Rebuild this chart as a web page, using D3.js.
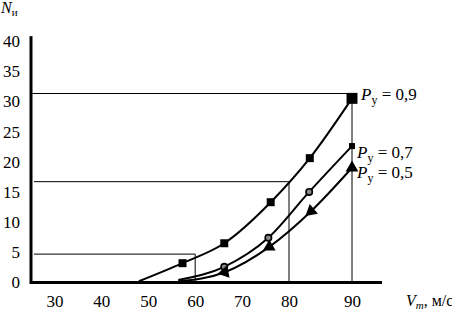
<!DOCTYPE html>
<html>
<head>
<meta charset="utf-8">
<script src="https://cdn.jsdelivr.net/npm/d3@7"></script>
<style>
  body { margin: 0; background: #fff; }
  svg text { font-family: "Times New Roman", Tinos, "Liberation Serif", "Noto Serif", "DejaVu Serif", serif !important; fill: #000; }
  .tick text { font-size: 17px; }
</style>
</head>
<body>
<div id="chart"></div>
<script>
// speeds (m/s) and N values for each reliability level
var speed09 = [48, 57.3, 66.2, 76.1, 83.3, 90];
var n09     = [0.2, 3.2, 6.5, 13.3, 20.6, 30.5];
var speed07 = [56.4, 66.2, 75.6, 83.2, 90];
var n07     = [0.4, 2.6, 7.4, 15.0, 22.6];
var speed05 = [56.4, 66.3, 75.8, 83.5, 90];
var n05     = [0.2, 1.7, 5.9, 11.8, 19.0];

var seriesLabels = ['0,9', '0,7', '0,5'];

// guide lines
var guideSpeed = [60, 80, 90];
var guideN     = [4.7, 16.7, 31.3];

var xTicks = [30, 40, 50, 60, 70, 80, 90];
var yTicks = [0, 5, 10, 15, 20, 25, 30, 35, 40];

var W = 452, H = 311;

var svg = d3.select('#chart')
  .append('svg')
  .attr('width', W)
  .attr('height', H);

// the original x axis is stretched between 80 and 90
var x = d3.scaleLinear().domain([25, 80, 90, 94.8]).range([31, 289, 352, 382]);
var y = d3.scaleLinear().domain([0, 40]).range([282.5, 41]);

// guide lines
guideSpeed.forEach(function(s, i) {
  svg.append('line')
    .attr('x1', i === 2 ? x(25) : x(25) + 3).attr('x2', x(s))
    .attr('y1', y(guideN[i])).attr('y2', y(guideN[i]))
    .attr('stroke', '#000').attr('stroke-width', 1);
  svg.append('line')
    .attr('x1', x(s)).attr('x2', x(s))
    .attr('y1', y(guideN[i])).attr('y2', y(0))
    .attr('stroke', '#000').attr('stroke-width', 1);
});

// axes
var xAxis = d3.axisBottom(x).tickValues(xTicks).tickSize(0).tickPadding(12).tickFormat(d3.format('d'));
svg.append('g')
  .attr('transform', 'translate(0,' + y(0) + ')')
  .call(xAxis)
  .call(function(g) { g.select('.domain').remove(); });

var yAxis = d3.axisLeft(y).tickValues(yTicks).tickSize(0).tickPadding(11);
svg.append('g')
  .attr('transform', 'translate(' + x(25) + ',0)')
  .call(yAxis)
  .call(function(g) { g.select('.domain').remove(); });

svg.append('line')
  .attr('x1', x(25) - 1).attr('x2', x(94.8))
  .attr('y1', y(0)).attr('y2', y(0))
  .attr('stroke', '#000').attr('stroke-width', 3);
svg.append('line')
  .attr('x1', x(25)).attr('x2', x(25))
  .attr('y1', y(40.8)).attr('y2', y(0) + 1.5)
  .attr('stroke', '#000').attr('stroke-width', 3);

// axis titles
var nTitle = svg.append('text').attr('x', 1).attr('y', 13).attr('font-size', 16);
nTitle.append('tspan').attr('font-style', 'italic').text('N');
nTitle.append('tspan').attr('font-size', 11).attr('dy', 3).text('и');

var vTitle = svg.append('text').attr('x', 406).attr('y', 306).attr('font-size', 16);
vTitle.append('tspan').attr('font-style', 'italic').text('V');
vTitle.append('tspan').attr('font-style', 'italic').attr('font-size', 11).attr('dy', 3).text('m');
vTitle.append('tspan').attr('dy', -3).text(', м/с');

// series
var series = [
  { sx: speed09, sy: n09, label: seriesLabels[0], marker: 'square', dx: 9, dy: 2 },
  { sx: speed07, sy: n07, label: seriesLabels[1], marker: 'circle', dx: 5, dy: 12 },
  { sx: speed05, sy: n05, label: seriesLabels[2], marker: 'triangle', dx: 5, dy: 10 }
];

var line = d3.line()
  .x(function(d) { return x(d[0]); })
  .y(function(d) { return y(d[1]); })
  .curve(d3.curveMonotoneX);

series.forEach(function(s) {
  var pts = s.sx.map(function(v, i) { return [v, s.sy[i]]; });

  svg.append('path')
    .datum(pts)
    .attr('d', line)
    .attr('fill', 'none')
    .attr('stroke', '#000')
    .attr('stroke-width', 2);

  pts.forEach(function(p, i) {
    if (i === 0) return;
    var last = i === pts.length - 1;
    var px = x(p[0]), py = y(p[1]);
    var m;
    if (s.marker === 'square') {
      var sz = last ? 120 : 64;
      m = svg.append('path').attr('d', d3.symbol(d3.symbolSquare, sz)());
      m.attr('transform', 'translate(' + px + ',' + py + ')');
    } else if (s.marker === 'circle') {
      if (last) {
        m = svg.append('path').attr('d', d3.symbol(d3.symbolSquare, 36)());
      } else {
        m = svg.append('circle').attr('r', 3.2)
          .attr('fill', '#888').attr('stroke', '#000').attr('stroke-width', 1.6);
      }
      m.attr('transform', 'translate(' + px + ',' + py + ')');
    } else {
      var ang = 0;
      if (!last) {
        var prev = pts[i - 1];
        var ddx = x(prev[0]) - px, ddy = y(prev[1]) - py;
        ang = Math.atan2(ddx, -ddy) * 180 / Math.PI;
      }
      m = svg.append('path').attr('d', d3.symbol(d3.symbolTriangle, 70)());
      m.attr('transform', 'translate(' + px + ',' + py + ') rotate(' + ang + ')');
    }
    if (s.marker !== 'circle' || last) m.attr('fill', '#000');
  });

  var lp = pts[pts.length - 1];
  var t = svg.append('text')
    .attr('x', x(lp[0]) + s.dx)
    .attr('y', y(lp[1]) + s.dy)
    .attr('font-size', 17);
  t.append('tspan').attr('font-style', 'italic').text('P');
  t.append('tspan').attr('font-size', 12).attr('dy', 4).text('у');
  t.append('tspan').attr('dy', -4).text(' = ' + s.label);
});
</script>
</body>
</html>
